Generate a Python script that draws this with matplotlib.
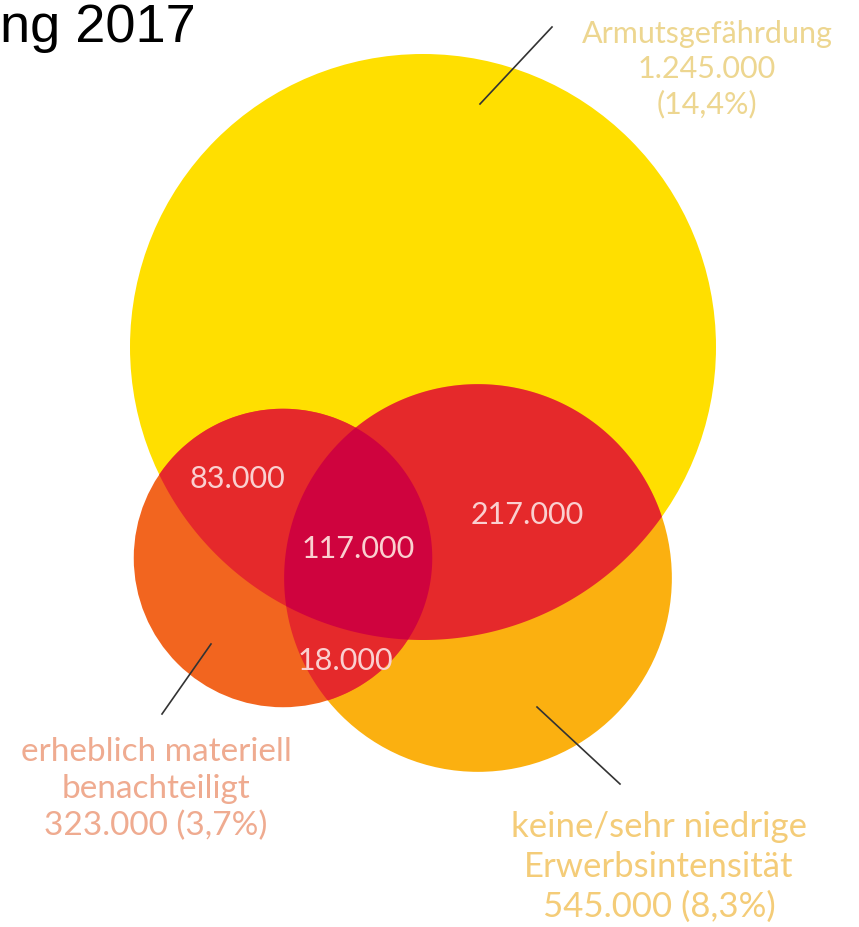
# Venn-Diagramm: Armuts- und Ausgrenzungsgefährdung 2017

import numpy as np
import matplotlib.pyplot as plt
from matplotlib.patches import Circle, Polygon

# Daten
sets = ['Armutsgefährdung', 'erheblich materiell\nbenachteiligt', 'keine/sehr niedrige\nErwerbsintensität']
totals = [1245000, 323000, 545000]
shares = [14.4, 3.7, 8.3]
# Überschneidungen: A∩M, A∩M∩E, A∩E, M∩E
overlap_names = ['A∩M', 'A∩M∩E', 'A∩E', 'M∩E']
overlap_values = [83000, 117000, 217000, 18000]


def de(v):
    return f'{v:,}'.replace(',', '.')


def pct(p):
    return f'({p:.1f}%)'.replace('.', ',')


def inside_all(pts, circles, skip):
    ok = np.ones(len(pts), dtype=bool)
    for j, (c, r) in enumerate(circles):
        if j == skip:
            continue
        ok &= np.hypot(pts[:, 0] - c[0], pts[:, 1] - c[1]) <= r + 1e-6
    return ok


def intersection(circles):
    # Schnittmenge konvexer Kreise als Polygon
    t = np.linspace(0, 2 * np.pi, 1440, endpoint=False)
    pts = []
    for i, (c, r) in enumerate(circles):
        p = np.column_stack([c[0] + r * np.cos(t), c[1] + r * np.sin(t)])
        pts.append(p[inside_all(p, circles, i)])
    pts = np.vstack(pts)
    m = pts.mean(axis=0)
    order = np.argsort(np.arctan2(pts[:, 1] - m[1], pts[:, 0] - m[0]))
    return pts[order]


fig = plt.figure(figsize=(8.59, 9.28), dpi=100)
ax = fig.add_axes([0, 0, 1, 1])
ax.set_xlim(0, 859)
ax.set_ylim(928, 0)
ax.set_aspect('equal')
ax.axis('off')

# Kreisflächen proportional zu den Werten
scale = 293 / np.sqrt(totals[0])
radii = [scale * np.sqrt(v) for v in totals]
centers = [(423, 348), (283, 559), (478, 579)]
circ = list(zip(centers, radii))
A, M, E = circ

colors = ['#FFDF00', '#F2651F', '#FBB010']
for (c, r), col in zip([A, E, M], [colors[0], colors[2], colors[1]]):
    ax.add_patch(Circle(c, r, color=col, lw=0))

red = '#E5292B'
for pair in [(A, M), (A, E), (M, E)]:
    ax.add_patch(Polygon(intersection(list(pair)), closed=True, color=red, lw=0))
ax.add_patch(Polygon(intersection([A, M, E]), closed=True, color='#CF033E', lw=0))

# Werte der Überschneidungen
pos = {'A∩M': (237, 479), 'A∩M∩E': (358, 549), 'A∩E': (527, 515), 'M∩E': (345, 661)}
for name, v in zip(overlap_names, overlap_values):
    ax.text(*pos[name], de(v), color='#FAD0D0', fontsize=22, family='Lato',
            ha='center', va='center')

# Beschriftungen mit Hinweislinien
labels = [
    f'{sets[0]}\n{de(totals[0])}\n{pct(shares[0])}',
    f'{sets[1]}\n{de(totals[1])} {pct(shares[1])}',
    f'{sets[2]}\n{de(totals[2])} {pct(shares[2])}',
]
label_pos = [(707, 69), (156, 789), (659, 867)]
label_size = [22, 24, 25]
label_space = [1.3, 1.3, 1.3]
label_col = ['#EDD690', '#EFAB90', '#F4CC78']
lines = [((480, 105), (552, 28)), ((211, 645), (162, 715)), ((537, 708), (620, 785))]
for lab, p, fs, ls, col, (p0, p1) in zip(labels, label_pos, label_size, label_space,
                                         label_col, lines):
    ax.text(*p, lab, color=col, fontsize=fs, family='Lato',
            ha='center', va='center', linespacing=ls)
    ax.plot([p0[0], p1[0]], [p0[1], p1[1]], color='#333333', lw=1.2)

ax.text(0, 42, 'ng 2017', fontsize=39, family='Liberation Sans',
        ha='left', va='baseline', color='black')

plt.savefig('out.png', dpi=100)
